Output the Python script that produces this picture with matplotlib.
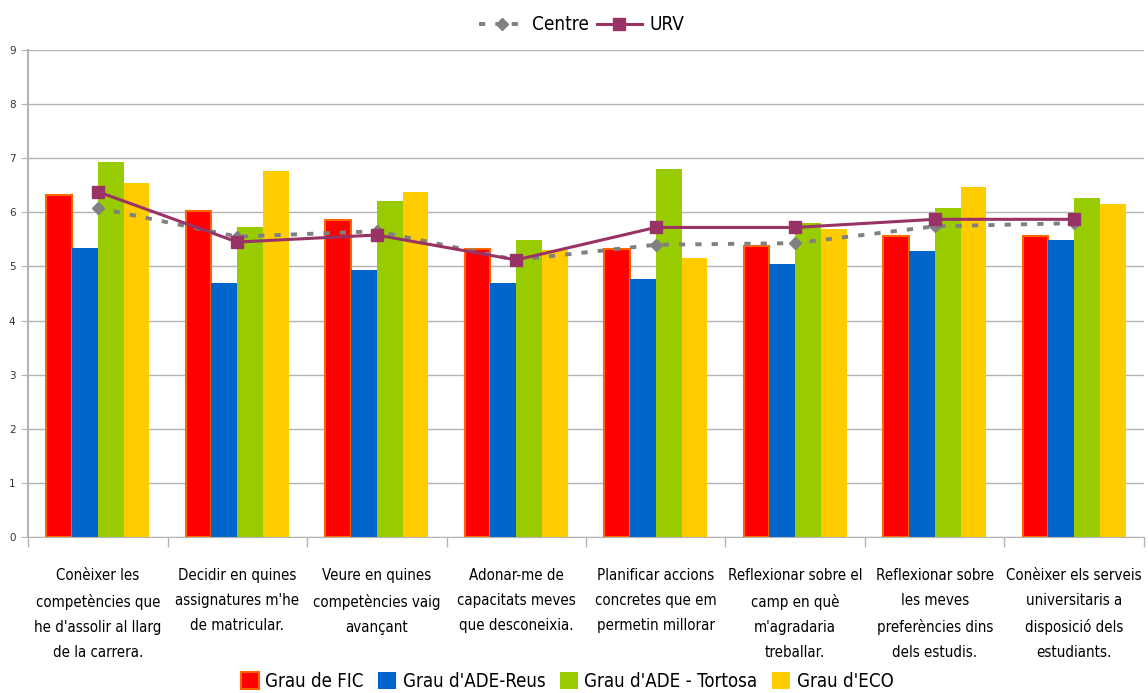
import matplotlib
matplotlib.use("Agg")
import matplotlib.pyplot as plt
from matplotlib import font_manager
from matplotlib.font_manager import FontProperties
import numpy as np
from matplotlib.lines import Line2D
from matplotlib.patches import Patch

categories = [
    "Conèixer les\ncompetències que\nhe d'assolir al llarg\nde la carrera.",
    "Decidir en quines\nassignatures m'he\nde matricular.",
    "Veure en quines\ncompetències vaig\navançant",
    "Adonar-me de\ncapacitats meves\nque desconeixia.",
    "Planificar accions\nconcretes que em\npermetin millorar",
    "Reflexionar sobre el\ncamp en què\nm'agradaria\ntreballar.",
    "Reflexionar sobre\nles meves\npreferències dins\ndels estudis.",
    "Conèixer els serveis\nuniversitaris a\ndisposició dels\nestudiants.",
]
fic = [6.32, 6.02, 5.86, 5.32, 5.32, 5.38, 5.57, 5.57]
ade_reus = [5.34, 4.69, 4.93, 4.69, 4.77, 5.05, 5.29, 5.49]
ade_tortosa = [6.93, 5.73, 6.21, 5.49, 6.80, 5.80, 6.08, 6.27]
eco = [6.55, 6.77, 6.38, 5.30, 5.16, 5.69, 6.47, 6.16]
centre = [6.08, 5.55, 5.65, 5.12, 5.40, 5.43, 5.74, 5.80]
urv = [6.38, 5.45, 5.58, 5.12, 5.72, 5.72, 5.87, 5.87]
yticks = list(range(0, 10))

# find a condensed / narrow regular-weight font file
best = None
best_score = 1e9
for f in font_manager.fontManager.ttflist:
    nm = f.name
    if 'Mono' in nm or f.style != 'normal':
        continue
    if f.stretch in ('condensed', 'extra-condensed'):
        pen = 0
    elif f.stretch == 'semi-condensed' or 'SemiCondensed' in f.fname:
        pen = 5
    elif 'Narrow' in nm or 'Condensed' in nm or 'Condensed' in f.fname:
        pen = 8
    else:
        continue
    wt = f.weight if isinstance(f.weight, int) else 400
    score = abs(wt - 400) + pen
    if score < best_score:
        best_score, best = score, f.fname

lsp = 1.85
if best is not None and best_score <= 20:
    lab_fp = FontProperties(fname=best, size=10.8)
    leg_fp = FontProperties(fname=best, size=13.4)
    top_fp = FontProperties(fname=best, size=13.6)
else:
    lab_fp = FontProperties(family='Roboto', size=10.2)
    leg_fp = FontProperties(family='Roboto', size=12.5)
    top_fp = FontProperties(family='Roboto', size=12.5)

fig = plt.figure(figsize=(11.48, 6.93), dpi=100)
ax = fig.add_axes([0.0244, 0.225, 0.9721, 0.703])

n = len(categories)
x = np.arange(n)
w = 0.185
colors = ['#FF0000', '#0066CC', '#99CC00', '#FFCC00']
series = [fic, ade_reus, ade_tortosa, eco]
labels = ["Grau de FIC", "Grau d'ADE-Reus", "Grau d'ADE - Tortosa", "Grau d'ECO"]
for i, (vals, c) in enumerate(zip(series, colors)):
    offs = (i - 1.5) * w
    if i == 0:
        ax.bar(x + offs, vals, w, color=c, edgecolor='#FF6600', linewidth=1.5, zorder=2)
    else:
        ax.bar(x + offs, vals, w, color=c, linewidth=0, zorder=2)

ax.plot(x, centre, color='#808080', linestyle=(0, (1.6, 2.6)), linewidth=2.8,
        marker='D', markersize=6.5, markerfacecolor='#808080', markeredgecolor='#808080', zorder=3)
ax.plot(x, urv, color='#993366', linewidth=2.2, marker='s', markersize=9,
        markerfacecolor='#993366', markeredgecolor='#993366', zorder=4)

ax.set_xlim(-0.5, n - 0.5)
ax.set_ylim(0, 9)
ax.set_yticks(yticks)
ax.set_yticklabels([str(t) for t in yticks], fontsize=7.5, color='#333333')
ax.yaxis.grid(True, color='#b3b3b3', linewidth=1)
ax.set_axisbelow(True)

ax.set_xticks(np.arange(n + 1) - 0.5, minor=False)
ax.set_xticklabels([])
ax.set_xticks(x, minor=True)
ax.set_xticklabels(categories, minor=True, fontproperties=lab_fp, linespacing=lsp, va='top')
ax.tick_params(axis='x', which='minor', length=0, pad=22)
ax.tick_params(axis='x', which='major', length=7, color='#b3b3b3', width=1)
ax.tick_params(axis='y', length=5, color='#b3b3b3', pad=4)

for s in ['top', 'right']:
    ax.spines[s].set_visible(False)
ax.spines['left'].set_color('#b3b3b3')
ax.spines['bottom'].set_color('#b3b3b3')
ax.spines['left'].set_linewidth(1.5)

top_handles = [
    Line2D([0], [0], color='#808080', linestyle=(0, (1.6, 2.6)), linewidth=2.8, marker='D',
           markersize=6.5, markerfacecolor='#808080', markeredgecolor='#808080'),
    Line2D([0], [0], color='#993366', linewidth=2.2, marker='s', markersize=9,
           markerfacecolor='#993366', markeredgecolor='#993366'),
]
fig.legend(top_handles, ['Centre', 'URV'], loc='center', bbox_to_anchor=(0.507, 0.964),
           ncol=2, frameon=False, prop=top_fp, handlelength=2.4, handletextpad=0.4,
           columnspacing=0.4)

bottom_handles = [
    Patch(facecolor='#FF0000', edgecolor='#FF6600', linewidth=1.5),
    Patch(facecolor='#0066CC'),
    Patch(facecolor='#99CC00'),
    Patch(facecolor='#FFCC00'),
]
fig.legend(bottom_handles, labels, loc='center', bbox_to_anchor=(0.494, 0.017),
           ncol=4, frameon=False, prop=leg_fp, handlelength=0.95, handleheight=1.0,
           handletextpad=0.35, columnspacing=0.8)

fig.savefig('out.png', dpi=100)
